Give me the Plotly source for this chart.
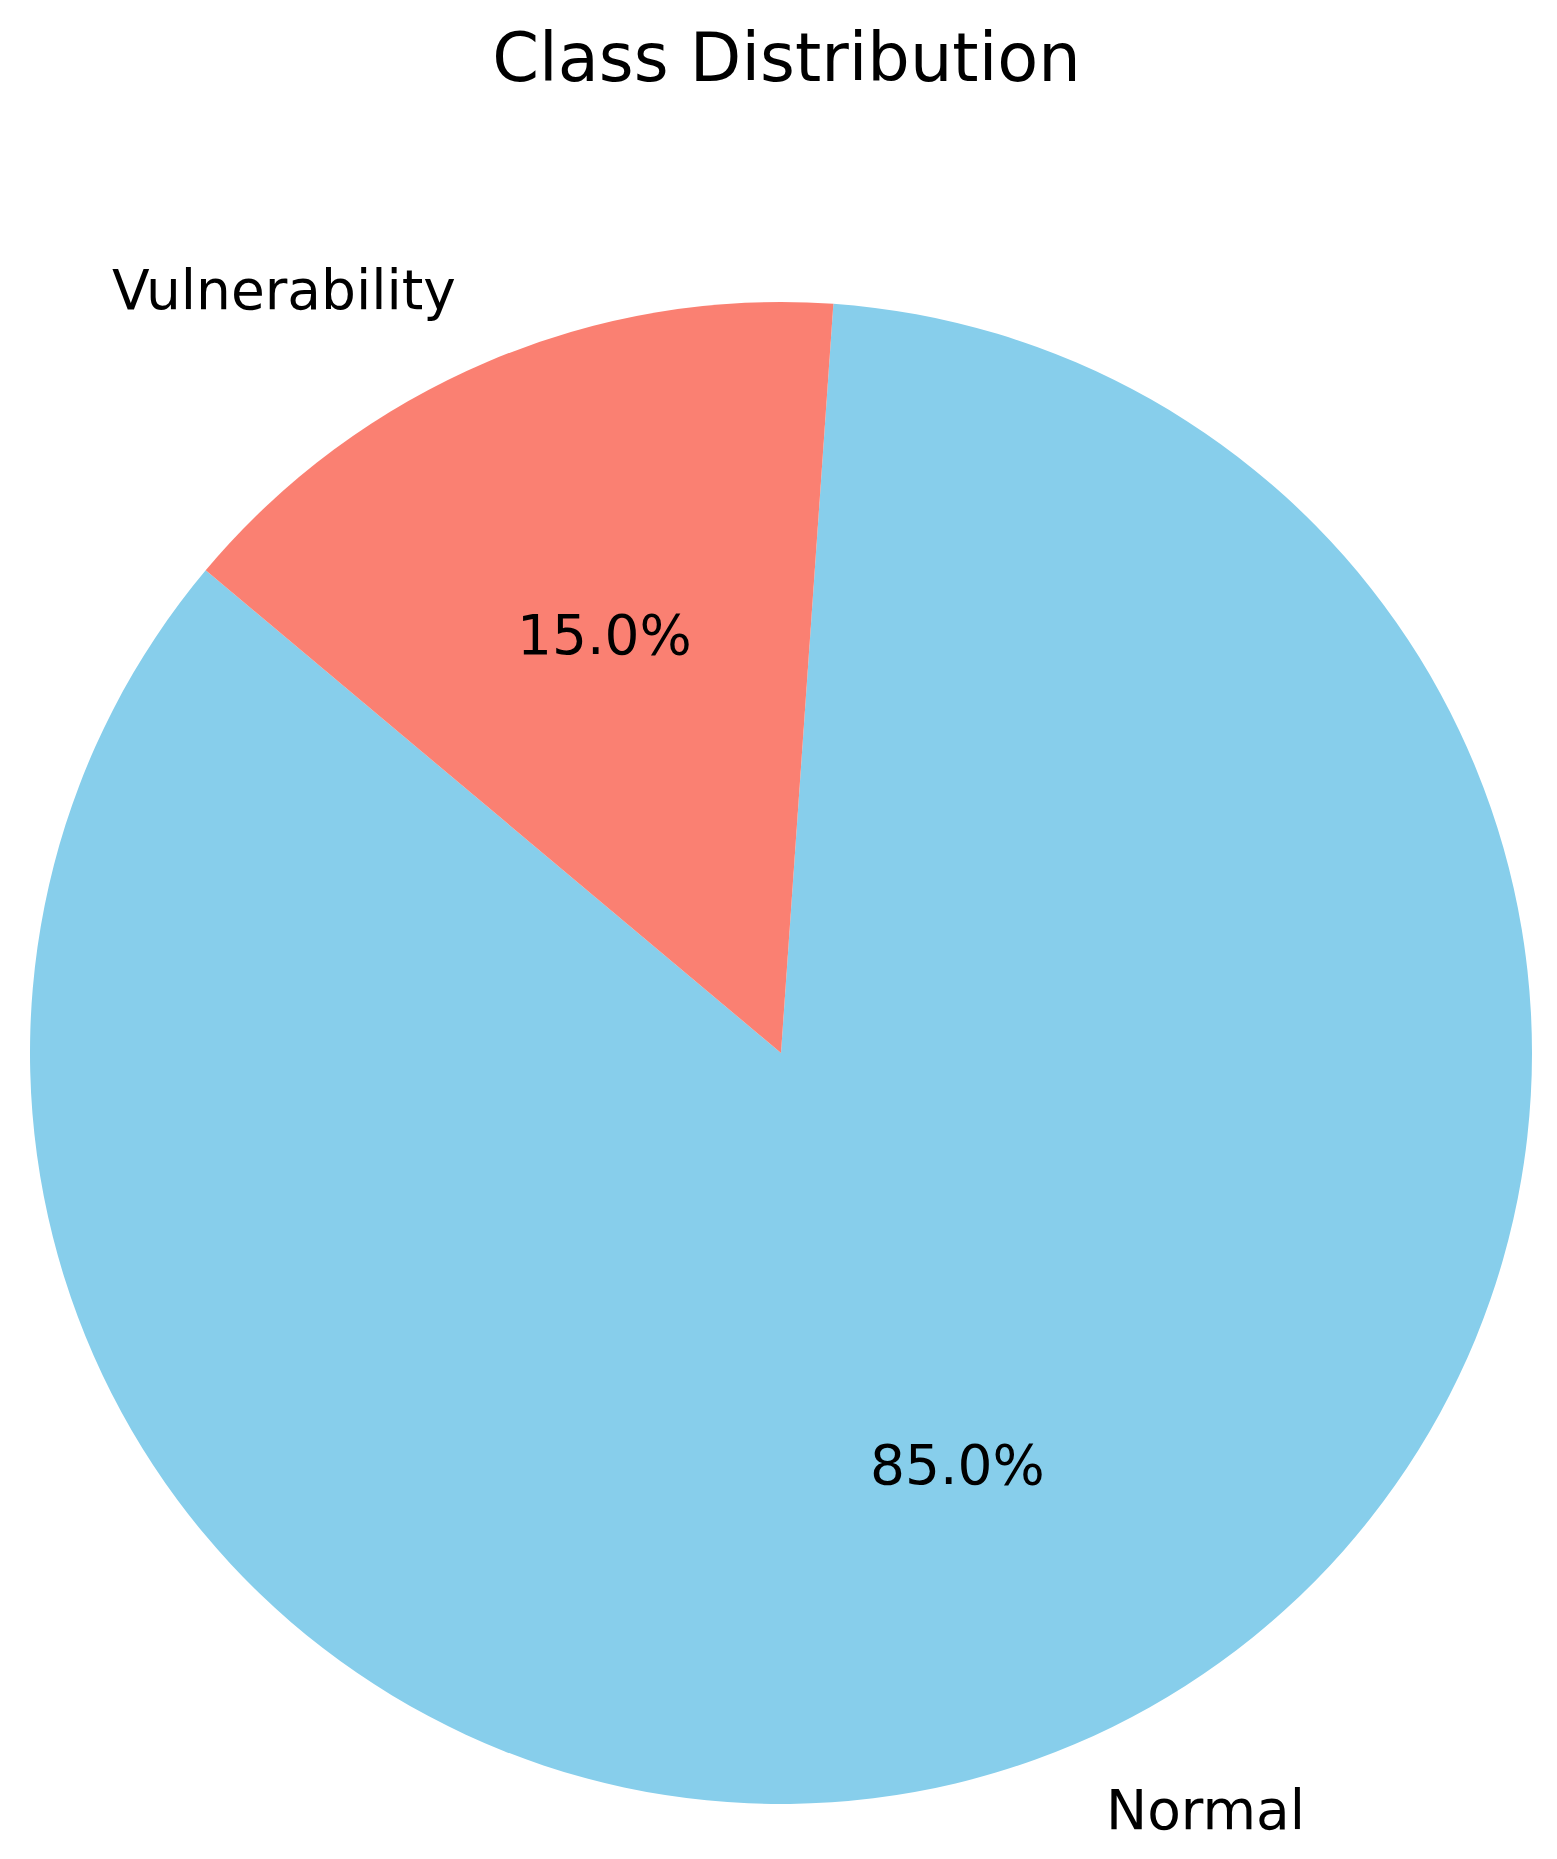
import numpy as np
import plotly.graph_objects as go

labels = ["Normal", "Vulnerability"]
values = [85, 15]
colors = ["#87CEEB", "#FA8072"]

W, H = 1557, 1859
cx, cy, r = 773, 1045, 751          # pie centre / radius in px
start_angle = 140                   # matplotlib-style startangle (deg, ccw from 3 o'clock)
font = "DejaVu Sans"

total = sum(values)
# plotly's counterclockwise pies end the first slice at `rotation`
rot = (90 - start_angle - 360 * values[0] / total) % 360

fig = go.Figure(go.Pie(
    labels=labels, values=values, sort=False,
    direction="counterclockwise", rotation=rot,
    marker=dict(colors=colors, line=dict(width=0)),
    textinfo="none", showlegend=False,
    domain=dict(x=[(cx - r) / W, (cx + r) / W],
                y=[(H - cy - r) / H, (H - cy + r) / H]),
))

# labels at 1.1r and percentages at 0.6r, like matplotlib's autopct
ang = start_angle
for lab, v in zip(labels, values):
    frac = v / total
    mid = np.radians(ang + frac * 180)
    ang += frac * 360
    dx, dy = np.cos(mid), np.sin(mid)
    fig.add_annotation(x=(cx + 1.1 * r * dx) / W, y=(H - cy + 1.1 * r * dy) / H,
                       xref="paper", yref="paper", text=lab, showarrow=False,
                       xanchor="left" if dx > 0 else "right", yanchor="middle", yshift=3,
                       font=dict(size=55, color="black", family=font))
    fig.add_annotation(x=(cx + 0.6 * r * dx) / W, y=(H - cy + 0.6 * r * dy) / H,
                       xref="paper", yref="paper", text=f"{100 * frac:.1f}%", showarrow=False,
                       xanchor="center", yanchor="middle", yshift=3,
                       font=dict(size=55, color="black", family=font))

fig.update_layout(
    width=W, height=H,
    margin=dict(l=0, r=0, t=0, b=0),
    paper_bgcolor="white", plot_bgcolor="white",
    title=dict(text="Class Distribution", x=0.5, xanchor="center",
               y=1 - 50 / H, yanchor="middle",
               font=dict(size=67, color="black", family=font)),
)
fig.write_html("out.html")
